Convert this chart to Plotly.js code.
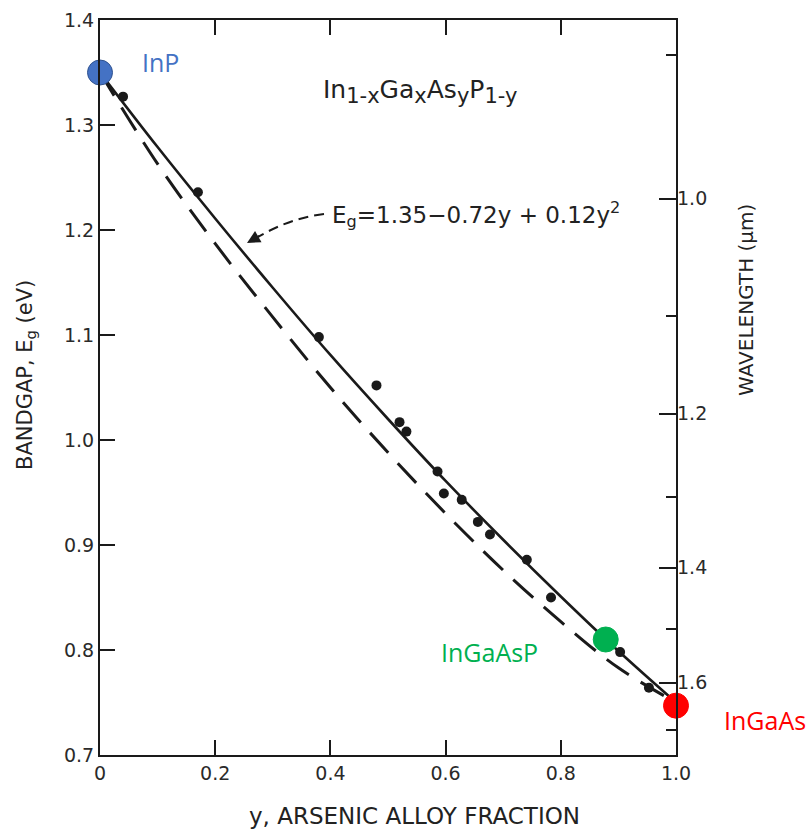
<!DOCTYPE html>
<html>
<head>
<meta charset="utf-8">
<script src="https://cdn.plot.ly/plotly-3.0.1.min.js"></script>
<style>
html,body{margin:0;padding:0;background:#fff;}
#chart{width:812px;height:831px;}
</style>
</head>
<body>
<div id="chart"></div>
<script>
// Arsenic alloy fraction grid for the curves
const curveY = [0, 0.1, 0.2, 0.3, 0.4, 0.5, 0.6, 0.7, 0.8, 0.9, 1.0];
// Solid curve (Eg = 1.35 - 0.72y + 0.12y^2)
const solidEg = [1.35, 1.279, 1.211, 1.145, 1.081, 1.020, 0.961, 0.905, 0.851, 0.799, 0.750];
// Dashed curve
const dashedEg = [1.35, 1.263, 1.187, 1.117, 1.050, 0.988, 0.930, 0.876, 0.827, 0.783, 0.750];

// Measured data points
const dataY  = [0.04, 0.17, 0.38, 0.48, 0.52, 0.532, 0.586, 0.597, 0.628, 0.656, 0.677, 0.741, 0.783, 0.903, 0.953];
const dataEg = [1.327, 1.236, 1.098, 1.052, 1.017, 1.008, 0.970, 0.949, 0.943, 0.922, 0.910, 0.886, 0.850, 0.798, 0.764];

// Highlighted compounds
const compNames = ["InP", "InGaAsP", "InGaAs"];
const compY  = [0.0, 0.878, 1.0];
const compEg = [1.35, 0.810, 0.747];
const compColors = ["#4472C4", "#00B050", "#FF0000"];

// Left axis ticks
const egTicks = [0.7, 0.8, 0.9, 1.0, 1.1, 1.2, 1.3, 1.4];
const egTickText = ["0.7", "0.8", "0.9", "1.0", "1.1", "1.2", "1.3", "1.4"];
const xTicks = [0, 0.2, 0.4, 0.6, 0.8, 1.0];
const xTickText = ["0", "0.2", "0.4", "0.6", "0.8", "1.0"];

// Right (wavelength) axis
const hc = 1.23; // eV·µm as drawn on the figure
const lamMajor = [1.0, 1.2, 1.4, 1.6];
const lamMajorText = ["1.0", "1.2", "1.4", "1.6"];
const lamMinor = [0.9, 1.1, 1.3, 1.5, 1.7];

const ink = "#1a1a1a";
const tickFont = {family: "DejaVu Sans", size: 19, color: "#2a2a2a"};
const labelFont = {family: "DejaVu Sans", size: 21, color: "#222"};

const traces = [
  {x: curveY, y: dashedEg, mode: "lines", line: {color: ink, width: 3, dash: "27px,14px", shape: "spline"}, hoverinfo: "skip"},
  {x: curveY, y: solidEg, mode: "lines", line: {color: ink, width: 2.6, shape: "spline"}, hoverinfo: "skip"},
  {x: dataY, y: dataEg, mode: "markers", marker: {color: ink, size: 10}},
  {x: compY, y: compEg, mode: "markers", cliponaxis: false,
   marker: {color: compColors, size: 25, line: {color: ["#2F528F", "#00B050", "#FF0000"], width: 1}}},
  {x: [0.5], y: [1.0], yaxis: "y2", mode: "markers", marker: {opacity: 0}, hoverinfo: "skip"}
];

const L = 100, T = 20, W = 576, H = 735;
function px(xp){ return (xp - L) / W; }
function py(yp){ return (T + H - yp) / H; }

const sub = s => `<sub><span style="font-size:21px">${s}</span></sub>`;

const layout = {
  width: 812, height: 831,
  margin: {l: L, r: 812 - L - W, t: T, b: 831 - T - H},
  paper_bgcolor: "#fff", plot_bgcolor: "#fff",
  showlegend: false,
  xaxis: {
    range: [0, 1.0], tickvals: xTicks, ticktext: xTickText,
    ticks: "inside", ticklen: 15, tickwidth: 1.5, tickcolor: ink,
    showline: true, linecolor: ink, linewidth: 2, mirror: "ticks",
    showgrid: false, zeroline: false, tickfont: tickFont
  },
  yaxis: {
    range: [0.7, 1.4], tickvals: egTicks, ticktext: egTickText,
    ticks: "inside", ticklen: 15, tickwidth: 1.5, tickcolor: ink,
    showline: true, linecolor: ink, linewidth: 2, mirror: true,
    showgrid: false, zeroline: false, tickfont: tickFont
  },
  yaxis2: {
    overlaying: "y", side: "right", range: [0.7, 1.4],
    tickvals: lamMajor.map(l => hc / l), ticktext: lamMajorText,
    ticks: "inside", ticklen: 17, tickwidth: 1.5, tickcolor: ink,
    minor: {tickvals: lamMinor.map(l => hc / l), ticks: "inside", ticklen: 10, tickwidth: 1.5, tickcolor: ink},
    showline: false, showgrid: false, zeroline: false, tickfont: tickFont
  },
  shapes: [
    {type: "path", xref: "paper", yref: "paper",
     path: `M ${px(324)} ${py(214)} Q ${px(290)} ${py(218)} ${px(258)} ${py(237)}`,
     line: {color: ink, width: 2, dash: "10px,6px"}}
  ],
  annotations: [
    {xref: "paper", yref: "paper", x: px(414), y: py(816), xanchor: "center", yanchor: "middle", showarrow: false,
     text: "y, ARSENIC ALLOY FRACTION", font: {family: "DejaVu Sans", size: 23, color: "#222"}},
    {xref: "paper", yref: "paper", x: px(26), y: py(375), xanchor: "center", yanchor: "middle", showarrow: false,
     textangle: -90, text: "BANDGAP, E<sub>g</sub> (eV)", font: labelFont},
    {xref: "paper", yref: "paper", x: px(746), y: py(300), xanchor: "center", yanchor: "middle", showarrow: false,
     textangle: -90, text: "WAVELENGTH (μm)", font: {family: "DejaVu Sans", size: 20, color: "#222"}},
    {xref: "paper", yref: "paper", x: px(247), y: py(243), ax: 14, ay: -8, text: "",
     showarrow: true, arrowhead: 2, arrowsize: 1.3, arrowwidth: 2, arrowcolor: ink},
    {xref: "paper", yref: "paper", x: px(420), y: py(92), xanchor: "center", yanchor: "middle", showarrow: false,
     text: "In" + sub("1-x") + "Ga" + sub("x") + "As" + sub("y") + "P" + sub("1-y"),
     font: {family: "DejaVu Sans", size: 25, color: "#222"}},
    {xref: "paper", yref: "paper", x: px(476), y: py(214), xanchor: "center", yanchor: "middle", showarrow: false,
     text: "E<sub>g</sub>=1.35−0.72y + 0.12y<sup>2</sup>", font: {family: "DejaVu Sans", size: 23, color: "#222"}},
    {xref: "x", yref: "y", x: compY[0], y: compEg[0], xshift: 60, yshift: 11, showarrow: false,
     text: compNames[0], font: {family: "Open Sans", size: 25, color: compColors[0]}},
    {xref: "x", yref: "y", x: compY[1], y: compEg[1], xshift: -116, yshift: -12, showarrow: false,
     text: compNames[1], font: {family: "Open Sans", size: 25, color: compColors[1]}},
    {xref: "x", yref: "y", x: compY[2], y: compEg[2], xshift: 89, yshift: -14, showarrow: false,
     text: compNames[2], font: {family: "Open Sans", size: 25, color: compColors[2]}}
  ]
};

Plotly.newPlot("chart", traces, layout, {displayModeBar: false});
</script>
</body>
</html>
